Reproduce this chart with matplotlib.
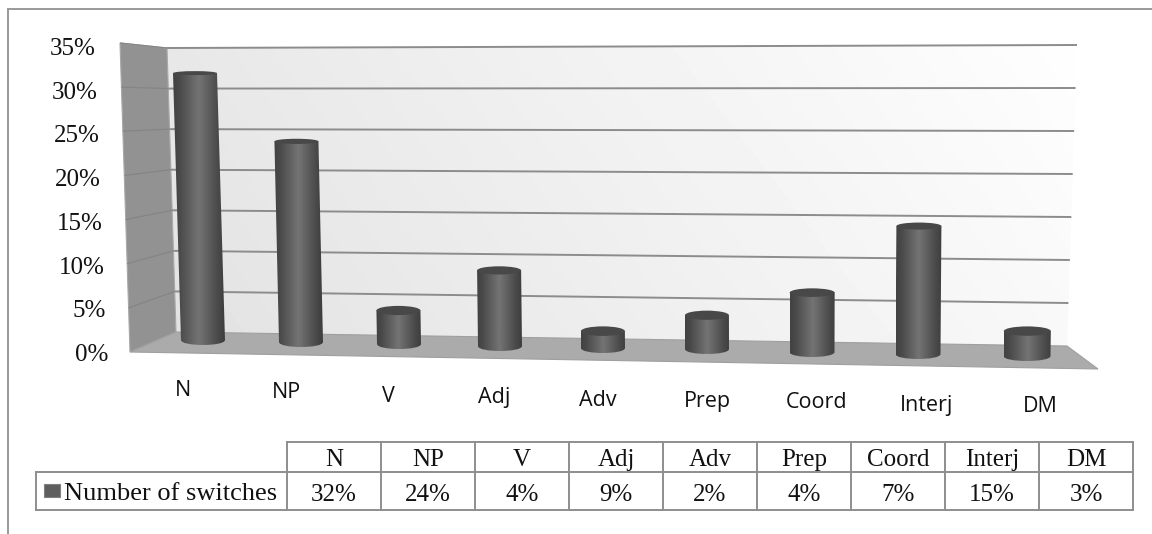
import numpy as np
import matplotlib
matplotlib.use("Agg")
import matplotlib.pyplot as plt
from matplotlib.patches import Polygon, Ellipse, Rectangle
from matplotlib.path import Path
from matplotlib.patches import PathPatch

categories = ["N", "NP", "V", "Adj", "Adv", "Prep", "Coord", "Interj", "DM"]
switches = [32, 24, 4, 9, 2, 4, 7, 15, 3]
y_ticks = [0, 5, 10, 15, 20, 25, 30, 35]
series_name = "Number of switches"

# Positions of the cylinders on the floor and of the axis labels under them
base_x = [203, 301, 399, 500, 603, 707, 812, 918, 1027]
base_y = [340, 342, 344, 346, 348, 349, 352, 354, 356]
label_x = [183, 286, 388, 494, 598, 707, 817, 927, 1040]
label_y = [391, 393, 397, 398, 400, 402, 403, 405, 407]
widths = [44, 44, 44, 44, 44, 44, 45, 45, 47]
leans = [0.25, 0.19, 0.14, 0.10, 0.06, 0.02, -0.02, -0.06, -0.10]
px_per_unit = [8.34, 8.36, 8.38, 8.40, 8.42, 8.44, 8.48, 8.53, 8.3]

W, H = 1152, 534
fig = plt.figure(figsize=(W / 100, H / 100), dpi=100, facecolor="white")
ax = fig.add_axes([0, 0, 1, 1])
ax.set_xlim(0, W)
ax.set_ylim(H, 0)
ax.axis("off")

# Corners of the 3D box, as (x at 0, y at 0, x at top, y at top)
FRONT_LEFT = (130, 352, 120, 43)
BACK_LEFT = (176, 332, 167, 48)
BACK_RIGHT = (1067, 346, 1077, 45)
FRONT_RIGHT = (1098, 369)
VMAX = y_ticks[-1]


def edge(corner, v):
    t = v / VMAX
    return corner[0] + (corner[2] - corner[0]) * t, corner[1] + (corner[3] - corner[1]) * t


def gradient_fill(poly, array, vmin=0, vmax=255, z=1):
    xs, ys = zip(*poly)
    patch = Polygon(poly, closed=True, fc="none", ec="none", transform=ax.transData)
    ax.add_patch(patch)
    im = ax.imshow(array, extent=(min(xs), max(xs), max(ys), min(ys)), cmap="gray",
                   vmin=vmin, vmax=vmax, aspect="auto", zorder=z, interpolation="bilinear")
    im.set_clip_path(patch)
    return im


# Back wall: light diagonal shading
wall = [edge(BACK_LEFT, VMAX), edge(BACK_RIGHT, VMAX), edge(BACK_RIGHT, 0), edge(BACK_LEFT, 0)]
gx, gy = np.meshgrid(np.linspace(0, 1, 200), np.linspace(1, 0, 100))
gradient_fill(wall, 226 + 28 * (0.8 * gx + 0.2 * gy), z=1)

# Side wall and floor
side = [edge(FRONT_LEFT, VMAX), edge(BACK_LEFT, VMAX), edge(BACK_LEFT, 0), edge(FRONT_LEFT, 0)]
ax.add_patch(Polygon(side, closed=True, fc="#929292", ec="#a8a8a8", lw=0.8, zorder=2))
floor = [edge(FRONT_LEFT, 0), edge(BACK_LEFT, 0), edge(BACK_RIGHT, 0), FRONT_RIGHT]
ax.add_patch(Polygon(floor, closed=True, fc="#ababab", ec="#9f9f9f", lw=0.8, zorder=2))

# Gridlines across both walls, and value labels along the front edge
for v in y_ticks:
    f, b, r = edge(FRONT_LEFT, v), edge(BACK_LEFT, v), edge(BACK_RIGHT, v)
    if v > 0:
        ax.plot([f[0], b[0]], [f[1], b[1]], color="#858585", lw=0.9, zorder=3,
                solid_capstyle="butt")
        ax.plot([b[0], r[0]], [b[1], r[1]], color="#8c8c8c", lw=1.4, zorder=3,
                solid_capstyle="butt")
    t = v / VMAX
    ax.text(108 - 12 * t, 355 - 306 * t, f"{v}%", ha="right", va="center",
            family="Liberation Serif", fontsize=18, color="#111111", zorder=6)

# Cylinders: horizontal shading, clipped to the outline
shade = np.interp(np.linspace(0, 1, 64), [0, 0.12, 0.5, 0.85, 1],
                  [66, 74, 116, 76, 62])[None, :]
for i, v in enumerate(switches):
    w = widths[i]
    bx, by = base_x[i], base_y[i]
    tx = bx - leans[i] * v
    ty = by - v * px_per_unit[i]
    rb = 5.0
    rt = max(2.0, 5.0 - 0.1 * v)
    z = 4 + i * 0.01
    verts = [(tx - w / 2, ty), (bx - w / 2, by)]
    codes = [Path.MOVETO, Path.LINETO]
    verts += [(bx - w / 2, by + rb * 1.33), (bx + w / 2, by + rb * 1.33), (bx + w / 2, by)]
    codes += [Path.CURVE4] * 3
    verts += [(tx + w / 2, ty), (tx - w / 2, ty)]
    codes += [Path.LINETO, Path.CLOSEPOLY]
    body = PathPatch(Path(verts, codes), fc="none", ec="none")
    ax.add_patch(body)
    im = ax.imshow(shade, extent=(min(bx, tx) - w / 2, max(bx, tx) + w / 2, by + rb, ty),
                   cmap="gray", vmin=0, vmax=255, aspect="auto", zorder=z,
                   interpolation="bilinear")
    im.set_clip_path(body)
    ax.add_patch(Ellipse((tx, ty), w, 2 * rt, fc="#484848", ec="none", zorder=z + 0.001))

# Category labels below the floor
for name, x, y in zip(categories, label_x, label_y):
    ax.text(x, y, name, ha="center", va="center", family="Open Sans", fontsize=15.5,
            color="#111111", zorder=6)

# Data table
col_edges = np.linspace(287, 1133, len(categories) + 1)
row_top, row_mid, row_bot = 442, 472, 510
left = 36
line = dict(color="#8e8e8e", lw=1.4, zorder=5, solid_capstyle="projecting")
ax.plot([col_edges[0], col_edges[-1]], [row_top, row_top], **line)
ax.plot([left, col_edges[-1]], [row_mid, row_mid], **line)
ax.plot([left, col_edges[-1]], [row_bot, row_bot], **line)
ax.plot([left, left], [row_mid, row_bot], **line)
for x in col_edges:
    ax.plot([x, x], [row_top, row_bot], **line)
for i, (name, v) in enumerate(zip(categories, switches)):
    cx = (col_edges[i] + col_edges[i + 1]) / 2
    ax.text(cx, (row_top + row_mid) / 2 + 3, name, ha="center", va="center",
            family="Liberation Serif", fontsize=18, color="#111111", zorder=6)
    ax.text(cx, (row_mid + row_bot) / 2 + 4, f"{v}%", ha="center", va="center",
            family="Liberation Serif", fontsize=18, color="#111111", zorder=6)
ax.add_patch(Rectangle((44, 484), 16, 13, fc="#5e5e5e", ec="#808080", lw=0.8, zorder=6))
ax.text(64, (row_mid + row_bot) / 2 + 3, series_name, ha="left", va="center",
        family="Liberation Serif", fontsize=19, color="#111111", zorder=6)

# Chart frame: open on the right and at the bottom
ax.plot([8, 8, W], [H, 9, 9], color="#999999", lw=1.4, zorder=7, solid_joinstyle="miter")

ax.set_xlim(0, W)
ax.set_ylim(H, 0)
fig.savefig("out.png", dpi=100, facecolor="white")
